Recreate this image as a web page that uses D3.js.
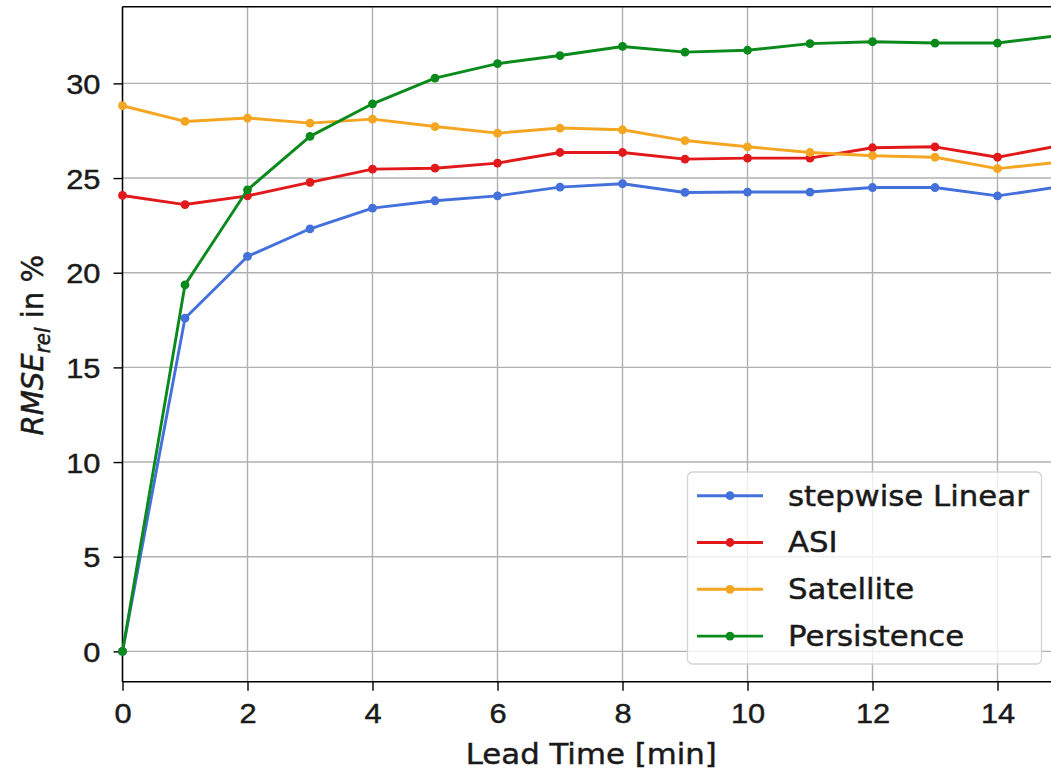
<!DOCTYPE html>
<html>
<head>
<meta charset="utf-8">
<script src="https://cdn.jsdelivr.net/npm/d3@7"></script>
<style>
  html, body { margin: 0; padding: 0; background: #fff; }
  svg { display: block; font-family: "DejaVu Sans", sans-serif; }
  svg text { stroke: #1a1a1a; stroke-width: 0.45px; }
</style>
</head>
<body>
<div id="chart"></div>
<script>
// lead times in minutes
const leadTimes = [0, 1, 2, 3, 4, 5, 6, 7, 8, 9, 10, 11, 12, 13, 14, 15];

// RMSE_rel in % per model
const stepwiseLinear = [0, 17.6, 20.86, 22.32, 23.41, 23.8, 24.06, 24.52, 24.7, 24.24, 24.26, 24.26, 24.5, 24.5, 24.06, 24.54];
const asi = [24.08, 23.6, 24.06, 24.77, 25.47, 25.52, 25.79, 26.35, 26.35, 26.0, 26.05, 26.05, 26.6, 26.65, 26.1, 26.72];
const satellite = [28.82, 27.99, 28.17, 27.9, 28.11, 27.72, 27.37, 27.64, 27.55, 26.98, 26.65, 26.35, 26.18, 26.1, 25.5, 25.84];
const persistence = [0, 19.36, 24.38, 27.2, 28.92, 30.28, 31.04, 31.47, 31.95, 31.65, 31.75, 32.1, 32.2, 32.13, 32.13, 32.53];

const seriesNames = ["stepwise Linear", "ASI", "Satellite", "Persistence"];
const seriesColors = ["#4470dc", "#e2191b", "#f4a622", "#0b8a1c"];
const seriesValues = [stepwiseLinear, asi, satellite, persistence];

const xTicks = [0, 2, 4, 6, 8, 10, 12, 14];
const yTicks = [0, 5, 10, 15, 20, 25, 30];

const width = 1051, height = 770;
const plot = { left: 122.5, right: 1060, top: 6.7, bottom: 681.7 };
const stretch = 1.1; // text in the picture is slightly wider than tall

const svg = d3.select("#chart").append("svg")
    .attr("width", width)
    .attr("height", height);

const x = d3.scaleLinear().domain([0, 15]).range([plot.left, plot.right]);
const y = d3.scaleLinear().domain([-1.6, 34.05]).range([plot.bottom, plot.top]);

// grid
svg.append("g")
    .selectAll("line")
    .data(xTicks)
    .enter()
    .append("line")
    .attr("x1", d => x(d)).attr("x2", d => x(d))
    .attr("y1", plot.top).attr("y2", plot.bottom)
    .attr("stroke", "#b0b0b0").attr("stroke-width", 1.4);

svg.append("g")
    .selectAll("line")
    .data(yTicks)
    .enter()
    .append("line")
    .attr("x1", plot.left).attr("x2", plot.right)
    .attr("y1", d => y(d)).attr("y2", d => y(d))
    .attr("stroke", "#b0b0b0").attr("stroke-width", 1.4);

// axes
const xAxis = svg.append("g")
    .attr("transform", `translate(0,${plot.bottom})`)
    .call(d3.axisBottom(x).tickValues(xTicks).tickSize(9).tickSizeOuter(0).tickFormat(d3.format("d")));
const yAxis = svg.append("g")
    .attr("transform", `translate(${plot.left},0)`)
    .call(d3.axisLeft(y).tickValues(yTicks).tickSize(9).tickSizeOuter(0).tickFormat(d3.format("d")));

[xAxis, yAxis].forEach(a => {
    a.select(".domain").remove();
    a.selectAll(".tick line").attr("stroke", "#000").attr("stroke-width", 1.4);
    a.selectAll(".tick text").attr("fill", "#1a1a1a").style("font-size", "28px");
});
xAxis.selectAll(".tick text")
    .attr("y", null).attr("dy", null)
    .attr("transform", `translate(0,41) scale(${stretch},1)`);
yAxis.selectAll(".tick text")
    .attr("x", null).attr("dy", "0.36em")
    .attr("transform", `translate(-22,0) scale(${stretch},1)`);

// spines
svg.append("line")
    .attr("x1", plot.left).attr("x2", plot.left)
    .attr("y1", plot.top).attr("y2", plot.bottom)
    .attr("stroke", "#000").attr("stroke-width", 1.5);
svg.append("line")
    .attr("x1", plot.left).attr("x2", plot.right)
    .attr("y1", plot.bottom).attr("y2", plot.bottom)
    .attr("stroke", "#000").attr("stroke-width", 1.5);
svg.append("line")
    .attr("x1", plot.left).attr("x2", plot.right)
    .attr("y1", plot.top).attr("y2", plot.top)
    .attr("stroke", "#000").attr("stroke-width", 1.5);

// series
const line = d3.line()
    .x((d, i) => x(leadTimes[i]))
    .y(d => y(d));

seriesValues.forEach((vals, k) => {
    const g = svg.append("g");
    g.append("path")
        .datum(vals)
        .attr("d", line)
        .attr("fill", "none")
        .attr("stroke", seriesColors[k])
        .attr("stroke-width", 2.9)
        .attr("stroke-linejoin", "round");
    g.selectAll("circle")
        .data(vals)
        .enter()
        .append("circle")
        .attr("cx", (d, i) => x(leadTimes[i]))
        .attr("cy", d => y(d))
        .attr("r", 4.4)
        .attr("fill", seriesColors[k]);
});

// axis labels
svg.append("text")
    .attr("transform", `translate(${(plot.left + plot.right) / 2},764) scale(${stretch},1)`)
    .attr("text-anchor", "middle")
    .style("font-size", "28px")
    .attr("fill", "#1a1a1a")
    .text("Lead Time [min]");

const yLabel = svg.append("text")
    .attr("transform", `translate(43,${(plot.top + plot.bottom) / 2 + 1}) rotate(-90) scale(1.04,${stretch})`)
    .attr("text-anchor", "middle")
    .style("font-size", "28px")
    .attr("fill", "#1a1a1a");
yLabel.append("tspan").style("font-style", "italic").text("RMSE");
yLabel.append("tspan").style("font-style", "italic").style("font-size", "19px").attr("dy", 6).text("rel");
yLabel.append("tspan").attr("dy", -6).text(" in %");

// legend
const legend = svg.append("g");
legend.append("rect")
    .attr("x", 687.5).attr("y", 472)
    .attr("width", 354).attr("height", 192)
    .attr("rx", 5)
    .attr("fill", "#fff").attr("fill-opacity", 0.8)
    .attr("stroke", "#d4d4d4").attr("stroke-width", 1.3);

const rows = legend.selectAll("g.row")
    .data(seriesNames)
    .enter()
    .append("g")
    .attr("class", "row")
    .attr("transform", (d, i) => `translate(0,${495.7 + i * 46.8})`);
rows.append("line")
    .attr("x1", 697).attr("x2", 763)
    .attr("stroke", (d, i) => seriesColors[i])
    .attr("stroke-width", 2.9);
rows.append("circle")
    .attr("cx", 730).attr("r", 4.4)
    .attr("fill", (d, i) => seriesColors[i]);
rows.append("text")
    .attr("transform", `translate(788,9.8) scale(${stretch},1)`)
    .style("font-size", "28px")
    .attr("fill", "#1a1a1a")
    .text(d => d);
</script>
</body>
</html>
